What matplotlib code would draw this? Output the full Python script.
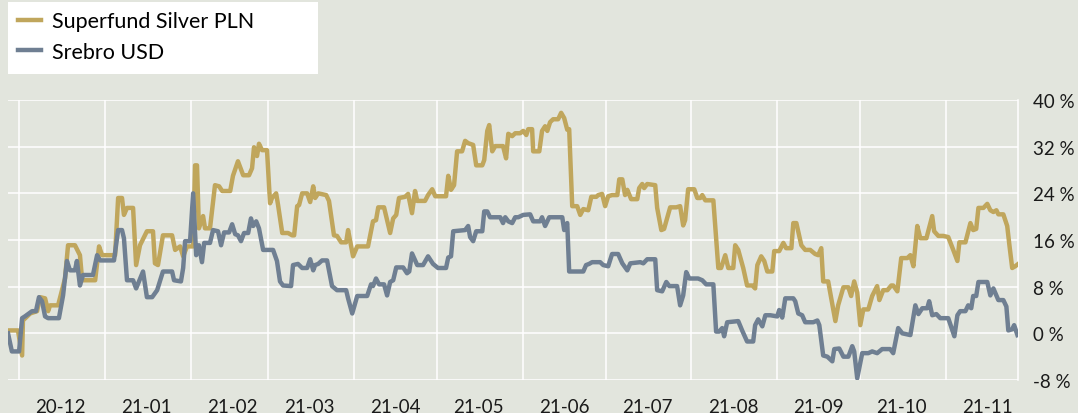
import numpy as np
import pandas as pd
import matplotlib
matplotlib.use('Agg')
import matplotlib.pyplot as plt
import matplotlib.dates as mdates
from matplotlib.patches import Rectangle

plt.rcParams['font.family'] = ['Lato', 'DejaVu Sans']

start = pd.Timestamp('2020-11-27')

# days since start, return in %
gold_days = [0.0, 3.6, 5.1, 5.4, 8.0, 10.5, 11.6, 13.4, 14.5, 15.2, 18.1, 20.6, 21.7, 24.2, 26.0, 26.8,
             31.5, 32.9, 34.0, 38.7, 39.8, 41.2, 41.9, 43.0, 45.2, 46.3, 47.7, 50.2, 52.4, 53.1, 54.2,
             56.0, 59.3, 60.4, 62.2, 63.3, 64.7, 66.9, 67.6, 68.3, 69.0, 70.5, 71.2, 73.0, 74.8, 76.3,
             77.4, 80.3, 81.3, 83.1, 85.0, 87.1, 88.2, 88.9, 90.0, 90.7, 91.8, 93.6, 94.7, 95.4, 96.9,
             97.6, 99.1, 101.2, 102.7, 103.4, 104.5, 105.2, 106.3, 108.1, 109.2, 110.3, 111.0, 112.1,
             115.0, 116.0, 117.8, 118.9, 120.4, 122.2, 122.9, 124.7, 126.2, 130.1, 131.9, 133.0, 133.8,
             135.9, 138.1, 139.2, 140.3, 141.3, 143.5, 144.6, 146.0, 147.1, 147.9, 150.7, 151.8, 153.3,
             154.4, 158.3, 159.1, 160.1, 161.2, 162.3, 164.1, 165.2, 166.3, 168.1, 169.2, 171.4, 172.1,
             173.2, 173.9, 175.0, 176.1, 178.9, 180.0, 180.8, 182.2, 183.3, 185.1, 186.2, 187.3, 188.0,
             189.4, 189.8, 192.0, 193.0, 194.1, 194.9, 195.9, 197.0, 198.8, 199.9, 201.0, 202.1, 202.8,
             203.9, 205.7, 206.8, 207.9, 209.7, 210.8, 212.6, 213.3, 214.7, 215.8, 216.9, 218.3, 220.2,
             220.9, 222.0, 223.0, 223.8, 225.2, 227.4, 228.1, 229.2, 229.9, 231.0, 233.9, 234.6, 236.1,
             237.1, 239.3, 241.5, 242.9, 244.0, 244.7, 245.8, 248.0, 249.1, 250.2, 250.9, 252.0, 254.9,
             256.7, 257.7, 259.2, 260.3, 262.1, 262.8, 263.9, 265.7, 267.1, 269.0, 270.0, 270.8, 272.2,
             273.3, 274.4, 276.2, 276.9, 278.7, 280.2, 281.2, 283.1, 283.8, 284.9, 286.7, 288.1, 289.9,
             291.7, 292.8, 293.9, 294.6, 296.4, 299.0, 300.0, 301.9, 303.7, 304.7, 305.8, 306.9, 308.0,
             309.1, 310.9, 312.3, 314.1, 314.9, 316.3, 317.8, 319.2, 319.9, 321.4, 322.8, 325.0, 326.1,
             327.2, 328.6, 329.7, 331.9, 334.0, 334.7, 336.2, 338.0, 339.8, 341.6, 343.1, 343.8, 346.0,
             347.8, 348.8, 349.9, 350.7, 352.5, 353.9, 355.0, 356.1, 357.2, 357.9, 359.7, 361.1, 361.9,
             362.9, 364.0, 365.1]
gold_vals = [0.5, 0.5, -3.8, 2.2, 3.4, 3.8, 6.2, 6.0, 3.8, 4.8, 4.8, 9.4, 15.1, 15.1, 13.4, 9.1,
             9.1, 14.9, 13.4, 13.4, 23.2, 23.2, 20.3, 21.5, 21.5, 11.7, 15.1, 17.5, 17.5, 12.0, 11.7,
             16.8, 16.8, 14.3, 14.9, 13.2, 14.9, 14.9, 28.8, 28.8, 18.0, 20.1, 18.0, 18.0, 25.4, 25.2,
             24.4, 24.4, 27.0, 29.5, 27.1, 27.1, 28.3, 31.9, 30.4, 32.5, 31.4, 31.4, 22.3, 23.2, 24.0,
             22.0, 17.2, 17.2, 16.8, 16.8, 21.8, 22.0, 24.0, 24.0, 22.5, 25.2, 23.2, 24.0,
             23.7, 22.7, 16.8, 16.7, 15.6, 15.6, 17.7, 13.2, 14.9, 14.9, 19.2, 19.4, 21.6,
             21.6, 17.2, 19.7, 20.3, 23.2, 23.4, 23.9, 20.6, 24.4, 22.7, 22.7, 23.7, 24.7,
             23.5, 23.5, 27.0, 24.6, 25.4, 31.2, 31.2, 33.0, 32.6, 32.3, 28.8, 28.8, 29.7,
             34.7, 35.7, 31.2, 32.1, 32.1, 30.0, 34.2, 33.8, 34.3, 34.3, 34.7, 34.0, 35.0,
             35.0, 31.2, 31.2, 34.7, 35.5, 34.7, 36.2, 36.7, 36.7, 37.8, 36.9, 34.9, 35.0,
             21.8, 21.8, 20.3, 21.3, 21.1, 23.4, 23.4, 23.7, 23.9, 21.8, 23.5, 23.7, 23.7,
             26.4, 26.4, 23.7, 24.6, 23.0, 23.0, 24.9, 25.6, 24.9, 25.6, 25.4, 21.5, 17.7,
             17.9, 21.6, 21.6, 21.8, 18.5, 19.4, 24.7, 24.7, 23.2, 23.2, 23.7, 22.8, 22.8,
             11.2, 11.2, 13.4, 11.2, 11.2, 15.1, 14.3, 11.2, 8.2, 8.2, 7.7, 11.7, 13.2,
             12.4, 10.6, 10.6, 14.1, 14.1, 15.5, 14.6, 14.6, 18.9, 18.9, 15.1, 14.3, 14.3,
             13.6, 13.4, 14.6, 8.9, 8.9, 2.1, 4.8, 7.9, 7.9, 6.4, 8.9, 7.0, 1.4,
             4.1, 4.1, 6.4, 8.1, 5.7, 7.4, 7.4, 8.2, 8.2, 7.2, 12.9, 12.9, 13.4,
             11.5, 18.4, 16.3, 16.3, 20.1, 17.5, 16.7, 16.7, 16.5, 14.3, 12.4, 15.6, 15.6,
             18.9, 17.7, 17.9, 21.5, 21.5, 22.2, 21.1, 20.8, 21.1, 20.4, 20.4, 18.4, 15.1,
             11.2, 11.5, 11.9]

blue_days = [0.0, 1.4, 4.0, 5.1, 6.1, 8.7, 10.1, 11.2, 12.3, 13.4, 14.5, 18.4, 19.9, 21.3, 22.4, 24.2,
             24.9, 26.0, 27.1, 30.7, 32.2, 33.3, 38.3, 39.8, 41.2, 41.9, 43.0, 45.2, 46.3, 48.8, 50.2,
             52.1, 53.9, 56.0, 59.3, 60.0, 62.5, 63.3, 64.0, 65.8, 66.9, 68.0, 69.0, 70.1, 70.9, 73.0,
             74.1, 75.9, 77.0, 78.1, 79.9, 81.0, 82.1, 83.1, 84.2, 85.3, 86.8, 87.8, 88.6, 89.7, 90.7,
             92.2, 95.8, 97.2, 98.3, 99.4, 102.3, 103.0, 104.8, 106.3, 108.1, 109.2, 110.3, 111.0,
             112.1, 113.5, 115.3, 117.1, 118.9, 122.2, 122.9, 124.4, 126.2, 129.8, 131.2, 131.9, 133.0,
             134.1, 135.9, 137.0, 138.1, 139.2, 140.3, 142.8, 144.2, 145.0, 146.0, 147.9, 150.0, 151.8,
             153.6, 155.4, 158.3, 159.1, 160.1, 160.9, 165.2, 166.3, 167.0, 168.1, 169.2, 171.4, 172.1,
             173.2, 174.2, 177.9, 178.9, 179.7, 180.8, 182.2, 183.3, 184.4, 186.2, 188.7, 189.8, 192.3,
             193.0, 194.1, 195.6, 200.3, 201.0, 202.1, 202.8, 207.9, 208.9, 210.0, 211.1, 214.0, 215.1,
             216.9, 218.3, 220.5, 222.0, 223.8, 224.9, 228.5, 229.6, 231.0, 233.9, 234.6, 236.4, 237.9,
             239.0, 241.8, 242.9, 244.0, 245.1, 246.2, 249.4, 250.9, 252.3, 254.9, 255.9, 257.0, 258.1,
             258.8, 259.9, 263.9, 265.3, 267.1, 269.3, 270.0, 271.1, 272.6, 273.7, 275.5, 278.0, 278.7,
             279.8, 280.9, 283.8, 284.5, 285.6, 287.0, 288.1, 291.0, 292.5, 293.2, 294.6, 296.1, 297.9,
             298.6, 300.4, 301.9, 303.7, 305.1, 305.8, 306.9, 308.7, 310.9, 312.3, 314.1, 315.9, 318.8,
             319.9, 321.7, 323.2, 326.1, 327.9, 329.0, 330.4, 332.2, 332.9, 334.0, 335.5, 336.9, 339.8,
             341.3, 342.0, 343.1, 344.1, 346.0, 347.0, 348.1, 348.8, 349.9, 350.7, 353.9, 355.0, 356.1,
             357.9, 359.7, 360.8, 361.5, 362.9, 363.6, 364.8]
blue_vals = [0.0, -3.1, -3.1, 2.6, 2.9, 3.8, 3.8, 6.2, 5.5, 2.9, 2.6, 2.6, 6.5, 12.4, 10.8, 10.8,
             12.4, 8.2, 10.0, 10.0, 13.4, 12.5, 12.5, 17.7, 17.7, 16.3, 9.1, 9.1, 7.7, 10.6, 6.2,
             6.2, 7.4, 10.6, 10.6, 9.1, 8.9, 11.2, 15.8, 15.8, 24.0, 13.4, 15.1, 12.2, 15.5, 15.5,
             17.7, 17.5, 15.1, 17.3, 17.3, 18.7, 17.0, 16.8, 15.8, 17.2, 17.2, 19.7, 18.4, 19.2, 18.0,
             14.3, 14.3, 12.4, 8.9, 8.2, 8.1, 11.7, 11.9, 11.2, 11.2, 12.7, 10.8, 11.7,
             11.9, 12.5, 12.5, 8.1, 7.4, 7.4, 6.0, 3.4, 6.4, 6.4, 8.4, 8.1, 9.4,
             8.4, 8.4, 6.5, 8.8, 9.1, 11.3, 11.3, 10.3, 10.6, 13.7, 11.7, 11.7, 13.2,
             11.9, 11.2, 11.2, 13.0, 13.2, 17.5, 17.7, 18.4, 16.5, 15.8, 17.5, 17.5, 20.9,
             20.9, 19.9, 19.9, 18.9, 19.9, 19.2, 18.9, 19.9, 19.9, 20.3, 20.4, 19.2, 19.2,
             19.9, 18.4, 19.9, 19.9, 17.7, 18.9, 10.6, 10.6, 11.7, 11.9, 12.2, 12.2, 11.7,
             11.5, 13.6, 13.6, 12.0, 10.8, 12.0, 12.2, 12.0, 12.7, 12.7, 7.4, 7.2, 8.8,
             8.1, 8.1, 4.8, 6.5, 10.5, 9.4, 9.4, 9.1, 8.4, 8.4, 0.3, 0.3, 0.9,
             -0.5, 1.9, 2.1, 0.5, -1.4, -1.4, 1.4, 2.4, 1.2, 3.1, 3.1, 2.9, 4.0,
             2.7, 6.0, 6.0, 5.5, 3.4, 3.1, 1.9, 1.9, 2.2, 1.4, -3.8, -4.0, -4.8,
             -2.7, -2.6, -4.0, -4.0, -2.2, -3.1, -7.7, -3.4, -3.4, -3.1, -3.4, -2.7, -2.7,
             -3.4, 0.9, 0.0, -0.3, 4.8, 3.3, 4.3, 4.3, 5.5, 3.1, 3.3, 2.6, 2.6,
             0.5, -0.5, 3.1, 3.8, 3.8, 4.8, 4.3, 6.4, 6.4, 8.8, 8.8, 6.5, 7.7,
             5.7, 5.7, 4.6, 0.5, 0.7, 1.4, -0.3]

labels = ['Superfund Silver PLN', 'Srebro USD']
colors = ['#c0a65c', '#6f7f92']
y_ticks = [-8, 0, 8, 16, 24, 32, 40]

bg = '#e2e5dd'
fig = plt.figure(figsize=(10.78, 4.14), dpi=100, facecolor=bg)
ax = fig.add_axes([8 / 1078, 33 / 414, 1010 / 1078, 280 / 414], facecolor=bg)

gold_dates = start + pd.to_timedelta(gold_days, unit='D')
blue_dates = start + pd.to_timedelta(blue_days, unit='D')
ax.plot(gold_dates, gold_vals, color=colors[0], lw=3.2, label=labels[0], zorder=3)
ax.plot(blue_dates, blue_vals, color=colors[1], lw=3.2, label=labels[1], zorder=3)

ax.set_xlim(start, start + pd.Timedelta(days=365))
ax.set_ylim(-8, 40)

ax.xaxis.set_major_locator(mdates.MonthLocator())
ax.xaxis.set_major_formatter(plt.NullFormatter())
ax.xaxis.set_minor_locator(mdates.MonthLocator(bymonthday=16))
ax.xaxis.set_minor_formatter(mdates.DateFormatter('%y-%m'))
ax.tick_params(axis='x', which='both', length=0, pad=13, labelsize=13.5, colors='#1a1a1a')

ax.yaxis.tick_right()
ax.set_yticks(y_ticks)
ax.set_yticklabels(['%d %%' % t for t in y_ticks])
ax.tick_params(axis='y', length=0, pad=11, labelsize=13.5, colors='#1a1a1a')

ax.grid(True, which='major', color='white', lw=1.1, zorder=1)
ax.set_axisbelow(True)
for s in ['left', 'top', 'bottom']:
    ax.spines[s].set_visible(False)
ax.spines['right'].set_color('white')
ax.spines['right'].set_linewidth(1.1)

# white legend box
fig.patches.append(Rectangle((8 / 1078, 1 - 75 / 414), 310 / 1078, 72 / 414,
                             transform=fig.transFigure, facecolor='white', edgecolor='none', zorder=0))
fig.legend(loc='upper left', bbox_to_anchor=(16 / 1078, 1 - 10 / 414), frameon=False,
           fontsize=15.5, handlelength=1.05, handletextpad=0.5, labelspacing=0.5,
           borderaxespad=0, borderpad=0.1)

fig.savefig('out.png', dpi=100, facecolor=bg)
